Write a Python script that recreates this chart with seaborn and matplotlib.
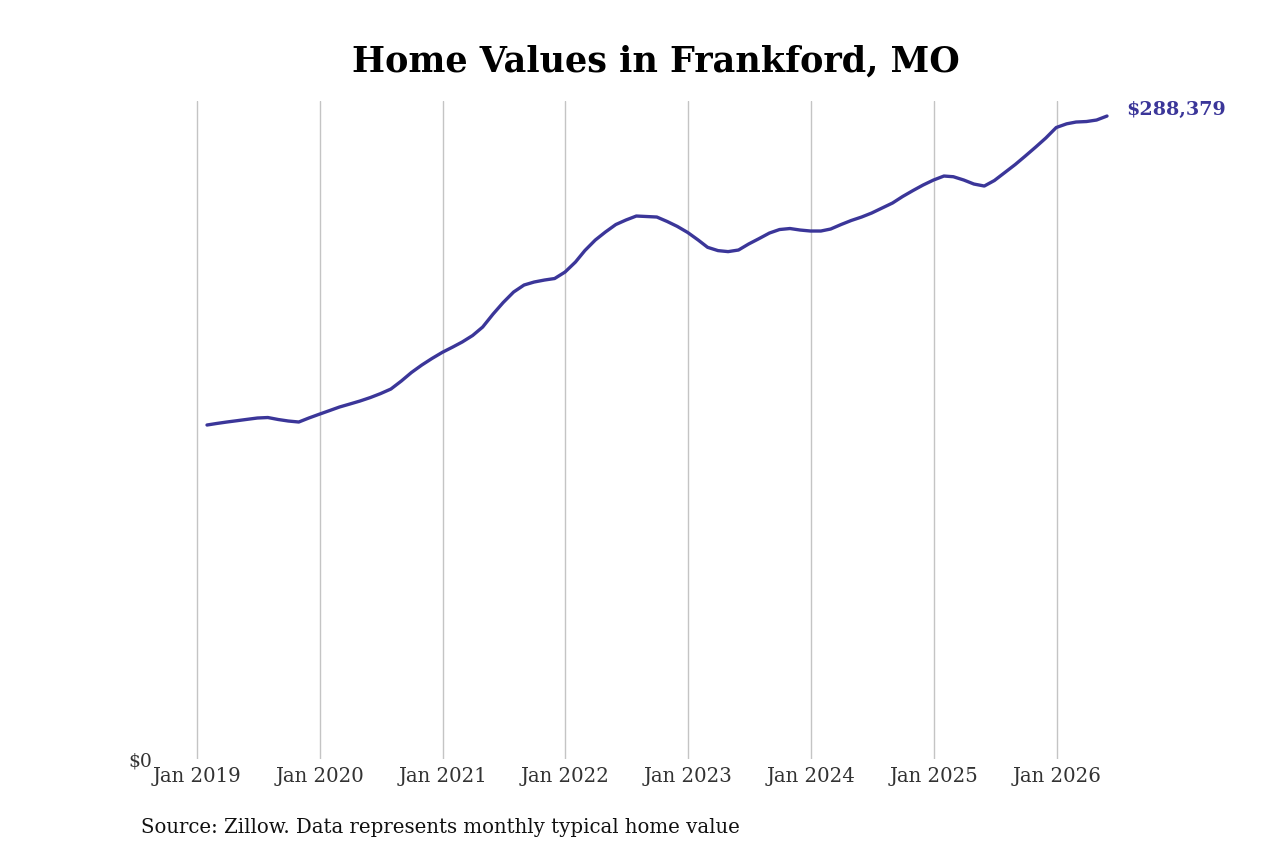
import numpy as np
import pandas as pd
import matplotlib

matplotlib.use("Agg")
import matplotlib.pyplot as plt
import matplotlib.dates as mdates
import matplotlib.ticker as mticker
import seaborn as sns

# ---------------------------------------------------------
# DATA (Zillow typical home value, month-end)
# ---------------------------------------------------------
START_MONTH = "2019-01-31"
home_values = [
    149800, 150470, 151145, 151730, 152355, 152940, 153160, 152265, 151590, 151145, 152940, 154640,  # 2019
    156300, 157870, 159220, 160560, 162130, 163880, 165945, 169530, 173345, 176710, 179625, 182400,  # 2020
    184780, 187025, 189940, 193750, 199580, 204740, 209450, 212590, 213935, 214830, 215505, 218420,  # 2021
    222900, 228060, 232770, 236360, 239720, 241740, 243535, 243310, 243085, 241070, 238870, 236135,  # 2022
    232770, 229500, 228020, 227570, 228290, 230980, 233400, 235910, 237480, 237930, 237255, 236810,  # 2023
    236810, 237705, 239720, 241520, 243085, 244880, 247125, 249365, 252280, 254970, 257440, 259680,  # 2024
    261475, 261160, 259680, 257890, 256990, 259460, 263045, 266635, 270445, 274480, 278520, 283230,  # 2025
    284890, 285695, 285920, 286590, 288379,                                                          # 2026
]
dates = pd.date_range(START_MONTH, periods=len(home_values), freq="ME")
df = pd.DataFrame({"date": dates, "value": home_values})

TITLE = "Home Values in Frankford, MO"
SOURCE = "Source: Zillow. Data represents monthly typical home value"
LINE_COLOR = "#3b3699"

# ---------------------------------------------------------
# STYLE
# ---------------------------------------------------------
sns.set_style("white")
plt.rcParams.update({
    "font.family": ["DejaVu Serif"],
})

fig = plt.figure(figsize=(12.8, 8.53), dpi=100)
ax = fig.add_axes([162 / 1280, 1 - 760 / 853, 990 / 1280, 658 / 853])

sns.lineplot(data=df, x="date", y="value", ax=ax, color=LINE_COLOR, linewidth=2.4)

ax.set_ylim(0, max(home_values) * 1.0234)
ax.margins(x=0.05)

ax.xaxis.set_major_locator(mdates.YearLocator())
ax.xaxis.set_major_formatter(mdates.DateFormatter("%b %Y"))
ax.yaxis.set_major_locator(mticker.FixedLocator([0]))
ax.yaxis.set_major_formatter(mticker.FuncFormatter(lambda v, p: f"${v:,.0f}"))

ax.grid(axis="x", color="#c4c4c4", linewidth=1.0)
ax.grid(axis="y", visible=False)
for s in ax.spines.values():
    s.set_visible(False)
ax.tick_params(axis="x", length=0, pad=5, labelsize=14.2, labelcolor="#333333")
ax.tick_params(axis="y", length=0, pad=7, labelsize=13.5, labelcolor="#333333")
ax.set_xlabel("")
ax.set_ylabel("")

last = df.iloc[-1]
ax.annotate(f"${last['value']:,.0f}", xy=(last["date"], last["value"]),
            xytext=(14, 5), textcoords="offset points", ha="left", va="center",
            fontsize=13.8, fontweight="bold", color=LINE_COLOR, annotation_clip=False)

fig.text(656 / 1280, 1 - 62 / 853, TITLE, ha="center", va="center",
         fontsize=25.2, fontweight="bold", color="black")
fig.text(141 / 1280, 1 - 828 / 853, SOURCE, ha="left", va="center",
         fontsize=14.2, color="#111111")

fig.savefig("out.png", dpi=100, facecolor="white")
